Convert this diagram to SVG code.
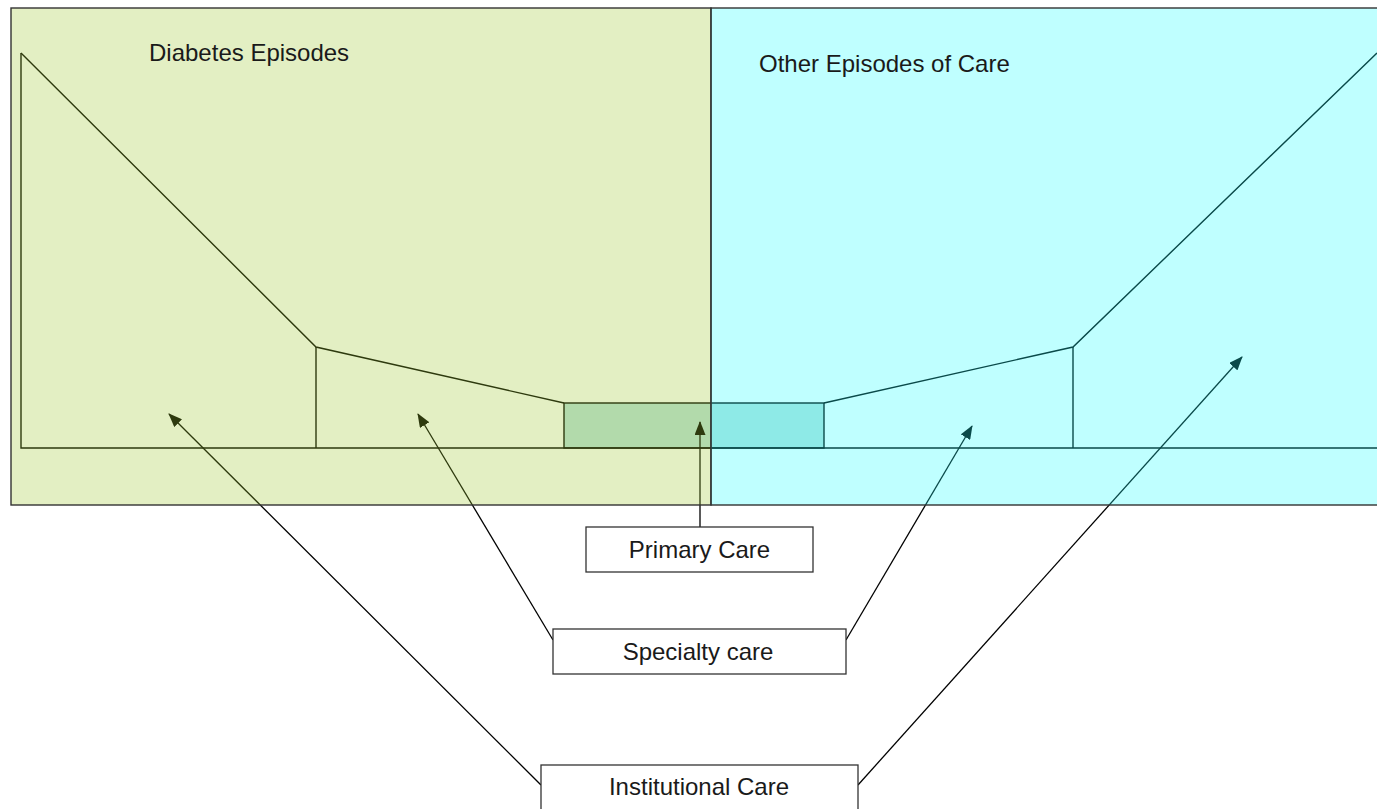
<svg xmlns="http://www.w3.org/2000/svg" width="1377" height="809" viewBox="0 0 1377 809">
<style>
.ln{fill:none;stroke:#000;stroke-width:1.4}
.ar{fill:none;stroke:#000;stroke-width:1.3}
.box{fill:#fff;stroke:#333;stroke-width:1.3}
.lbl{font-family:"Liberation Sans",Arial,sans-serif;font-size:24px;fill:#1a1a1a}
</style>
<defs>
<marker id="ah" viewBox="0 0 14 11" refX="13" refY="5.5" markerWidth="14" markerHeight="11" markerUnits="userSpaceOnUse" orient="auto">
<path d="M0,0 L14,5.5 L0,11 Z" fill="#000"/>
</marker>
</defs>
<rect width="1377" height="809" fill="#fff"/>
<g id="episode-shape">
<rect x="564" y="403" width="260" height="45" fill="#bae2dd" stroke="#000" stroke-width="1.4"/>
<polyline class="ln" points="21,53 21,448 1377,448"/>
<polyline class="ln" points="21,53 316,347 564,403"/>
<line class="ln" x1="316" y1="347" x2="316" y2="448"/>
<polyline class="ln" points="824,403 1073,347 1377,53"/>
<line class="ln" x1="1073" y1="347" x2="1073" y2="448"/>
</g>
<g id="connectors">
<line class="ar" x1="700" y1="527" x2="700" y2="422" marker-end="url(#ah)"/>
<line class="ar" x1="553" y1="640" x2="418" y2="414" marker-end="url(#ah)"/>
<line class="ar" x1="846" y1="640" x2="972" y2="426" marker-end="url(#ah)"/>
<line class="ar" x1="541" y1="785" x2="169" y2="414" marker-end="url(#ah)"/>
<line class="ar" x1="858" y1="785" x2="1242" y2="357" marker-end="url(#ah)"/>
</g>
<g id="diabetes-panel">
<rect x="11" y="8" width="700" height="497" fill="rgb(158,200,48)" fill-opacity="0.29"/>
<rect x="11" y="8" width="700" height="497" fill="none" stroke="#333" stroke-width="1.4"/>
<text class="lbl" x="149" y="61">Diabetes Episodes</text>
</g>
<g id="other-panel">
<rect x="711" y="8" width="670" height="497" fill="rgb(34,255,255)" fill-opacity="0.29"/>
<rect x="711" y="8" width="670" height="497" fill="none" stroke="#333" stroke-width="1.4"/>
<text class="lbl" x="759" y="72">Other Episodes of Care</text>
</g>
<g id="primary-care">
<rect class="box" x="586" y="527" width="227" height="45"/>
<text class="lbl" x="699.5" y="558" text-anchor="middle">Primary Care</text>
</g>
<g id="specialty-care">
<rect class="box" x="553" y="629" width="293" height="45"/>
<text class="lbl" x="698" y="660" text-anchor="middle">Specialty care</text>
</g>
<g id="institutional-care">
<rect class="box" x="541" y="765" width="317" height="50"/>
<text class="lbl" x="699" y="795" text-anchor="middle">Institutional Care</text>
</g>
</svg>
